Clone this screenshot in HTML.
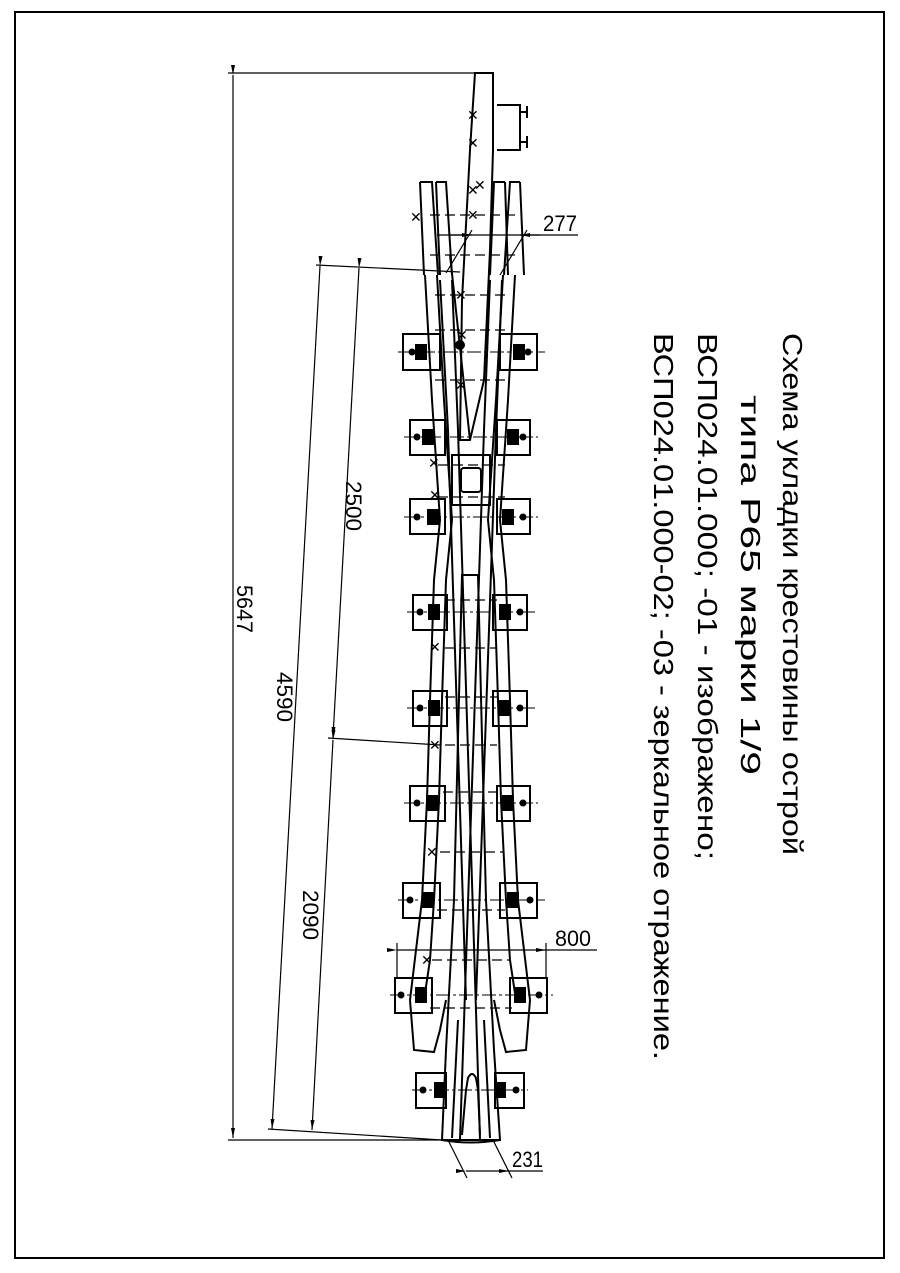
<!DOCTYPE html>
<html><head><meta charset="utf-8"><style>html,body{margin:0;padding:0;background:#fff}svg{display:block}</style></head><body>
<svg width="900" height="1273" viewBox="0 0 900 1273" xmlns="http://www.w3.org/2000/svg" font-family="'Liberation Sans Narrow','Liberation Sans',sans-serif">
<defs>
<marker id="a" viewBox="0 0 10 4" refX="10" refY="2" markerWidth="10" markerHeight="4" orient="auto" markerUnits="userSpaceOnUse"><path d="M0,0L10,2L0,4z" fill="#000"/></marker>
</defs>
<rect x="15" y="12" width="869" height="1246" fill="none" stroke="#000" stroke-width="2"/>
<g stroke="#000" stroke-width="1.2" fill="none">
<!-- dimension lines -->
<line x1="228" y1="73" x2="480" y2="73"/>
<line x1="228" y1="1140" x2="442" y2="1140"/>
<line x1="233" y1="75" x2="233" y2="1138" marker-start="url(#a)" marker-end="url(#a)"/>
<line x1="268" y1="1129" x2="442" y2="1140"/>
<line x1="316" y1="265" x2="460" y2="272"/>
<line x1="328" y1="738" x2="440" y2="745"/>
<line x1="320" y1="266" x2="272" y2="1129" marker-start="url(#a)" marker-end="url(#a)"/>
<line x1="359" y1="268" x2="333" y2="737" marker-start="url(#a)" marker-end="url(#a)"/>
<line x1="333" y1="740" x2="312" y2="1130" marker-start="url(#a)" marker-end="url(#a)"/>
<!-- 277 -->
<line x1="437" y1="235" x2="578" y2="235"/>
<line x1="450" y1="235" x2="472" y2="235" marker-end="url(#a)"/>
<line x1="540" y1="235" x2="520" y2="235" marker-end="url(#a)"/>
<line x1="472" y1="230" x2="446" y2="273"/>
<line x1="527" y1="230" x2="500" y2="275"/>
<!-- 800 -->
<line x1="397" y1="943" x2="397" y2="1000"/>
<line x1="546" y1="943" x2="546" y2="1000"/>
<line x1="397" y1="950" x2="546" y2="950" marker-start="url(#a)" marker-end="url(#a)"/>
<line x1="546" y1="950" x2="597" y2="950"/>
<!-- 231 -->
<line x1="448" y1="1140" x2="467" y2="1178"/>
<line x1="493" y1="1140" x2="512" y2="1178"/>
<line x1="466" y1="1171" x2="509" y2="1171" marker-start="url(#a)" marker-end="url(#a)"/>
<line x1="509" y1="1171" x2="543" y2="1171"/>
</g>
<g font-size="22" fill="#000">
<text transform="translate(237,585) rotate(90)" textLength="48" lengthAdjust="spacingAndGlyphs">5647</text>
<text transform="translate(277,672) rotate(90)" textLength="50" lengthAdjust="spacingAndGlyphs">4590</text>
<text transform="translate(346,481) rotate(90)" textLength="50" lengthAdjust="spacingAndGlyphs">2500</text>
<text transform="translate(303,890) rotate(90)" textLength="50" lengthAdjust="spacingAndGlyphs">2090</text>
<text x="543" y="231" textLength="34" lengthAdjust="spacingAndGlyphs">277</text>
<text x="555" y="946" textLength="36" lengthAdjust="spacingAndGlyphs">800</text>
<text x="512" y="1167" textLength="31" lengthAdjust="spacingAndGlyphs">231</text>
</g>
<g font-size="28" fill="#000">
<text transform="translate(783,333) rotate(90)" textLength="522" lengthAdjust="spacingAndGlyphs">Схема укладки крестовины острой</text>
<text transform="translate(741,395) rotate(90)" textLength="380" lengthAdjust="spacingAndGlyphs">типа Р65 марки 1/9</text>
<text transform="translate(698,333) rotate(90)" textLength="527" lengthAdjust="spacingAndGlyphs">ВСП024.01.000; -01 - изображено;</text>
<text transform="translate(654,333) rotate(90)" textLength="727" lengthAdjust="spacingAndGlyphs">ВСП024.01.000-02; -03 - зеркальное отражение.</text>
</g>
<!-- plates -->
<g stroke="#000" stroke-width="2" fill="#fff">
<rect x="403" y="334" width="37" height="36"/><rect x="500" y="334" width="37" height="36"/>
<rect x="410" y="420" width="35" height="35"/><rect x="497" y="420" width="33" height="35"/>
<rect x="410" y="499" width="35" height="35"/><rect x="497" y="499" width="33" height="35"/>
<rect x="413" y="595" width="34" height="35"/><rect x="493" y="595" width="34" height="35"/>
<rect x="413" y="691" width="34" height="35"/><rect x="493" y="691" width="34" height="35"/>
<rect x="410" y="786" width="35" height="35"/><rect x="497" y="786" width="33" height="35"/>
<rect x="403" y="883" width="37" height="35"/><rect x="500" y="883" width="37" height="35"/>
<rect x="395" y="978" width="37" height="35"/><rect x="510" y="978" width="37" height="35"/>
<rect x="416" y="1073" width="30" height="35"/><rect x="495" y="1073" width="29" height="35"/>
</g>
<g stroke="#000" stroke-width="1" stroke-dasharray="14,3,3,3">
<line x1="398" y1="352" x2="545" y2="352"/><line x1="404" y1="437" x2="538" y2="437"/>
<line x1="404" y1="517" x2="538" y2="517"/><line x1="407" y1="612" x2="535" y2="612"/>
<line x1="407" y1="708" x2="535" y2="708"/><line x1="404" y1="803" x2="538" y2="803"/>
<line x1="398" y1="900" x2="545" y2="900"/><line x1="390" y1="995" x2="553" y2="995"/>
<line x1="412" y1="1090" x2="528" y2="1090"/>
</g>
<g fill="#000">
<circle cx="412" cy="352" r="3.5"/><circle cx="528" cy="352" r="3.5"/>
<circle cx="417" cy="437" r="3.5"/><circle cx="523" cy="437" r="3.5"/>
<circle cx="417" cy="517" r="3.5"/><circle cx="523" cy="517" r="3.5"/>
<circle cx="420" cy="612" r="3.5"/><circle cx="520" cy="612" r="3.5"/>
<circle cx="420" cy="708" r="3.5"/><circle cx="520" cy="708" r="3.5"/>
<circle cx="417" cy="803" r="3.5"/><circle cx="523" cy="803" r="3.5"/>
<circle cx="410" cy="900" r="3.5"/><circle cx="530" cy="900" r="3.5"/>
<circle cx="401" cy="995" r="3.5"/><circle cx="539" cy="995" r="3.5"/>
<circle cx="423" cy="1090" r="3.5"/><circle cx="516" cy="1090" r="3.5"/>
<rect x="415" y="344" width="12" height="16"/><rect x="513" y="344" width="12" height="16"/>
<rect x="422" y="429" width="12" height="16"/><rect x="507" y="429" width="12" height="16"/>
<rect x="427" y="509" width="12" height="16"/><rect x="502" y="509" width="12" height="16"/>
<rect x="428" y="604" width="12" height="16"/><rect x="499" y="604" width="12" height="16"/>
<rect x="428" y="700" width="12" height="16"/><rect x="499" y="700" width="12" height="16"/>
<rect x="426" y="795" width="12" height="16"/><rect x="502" y="795" width="12" height="16"/>
<rect x="422" y="892" width="12" height="16"/><rect x="507" y="892" width="12" height="16"/>
<rect x="415" y="987" width="12" height="16"/><rect x="514" y="987" width="12" height="16"/>
<rect x="434" y="1082" width="12" height="16"/><rect x="494" y="1082" width="12" height="16"/>
<circle cx="460" cy="345" r="5"/>
</g>
<!-- rails -->
<g stroke="#000" stroke-width="2" fill="none">
<!-- top single rail -->
<path d="M475,73 L493,73 L493,150 L490,250 L484,380 L470,440 L460,440 L462,300 L470,150 Z"/>
<path d="M497,105 L520,105 L520,150 L497,150"/>
<line x1="520" y1="112" x2="527" y2="112"/><line x1="527" y1="106" x2="527" y2="118"/>
<line x1="520" y1="142" x2="527" y2="142"/><line x1="527" y1="136" x2="527" y2="148"/>
<!-- top outer wings -->
<path d="M420,182 L432,182 L438,275 M420,182 L424,275"/>
<path d="M436,182 L446,182 L452,275 M436,182 L440,275"/>
<path d="M505,182 L494,182 L490,275 M505,182 L508,275"/>
<path d="M520,182 L510,182 L504,275 M520,182 L524,275"/>
<!-- left outer rail -->
<path d="M425,275 L432,400 L440,520 L434,580 L430,700 L427,800 L422,900 L410,1000 L414,1050 L434,1052 L440,1030 L446,1000"/>
<path d="M437,275 L444,400 L452,520 L446,580 L442,700 L439,800 L434,900 L430,960 L424,1000"/>
<!-- right outer rail -->
<path d="M515,275 L508,400 L500,520 L506,580 L510,700 L513,800 L518,900 L530,1000 L526,1050 L506,1052 L500,1030 L494,1000"/>
<path d="M503,275 L496,400 L488,520 L494,580 L498,700 L501,800 L506,900 L510,960 L516,1000"/>
<!-- frog core body -->
<path d="M442,1140 L446,1050 L454,900 L462,575 L478,575 L486,900 L494,1050 L500,1140 Z"/>
<path d="M442,1140 Q470,1145 500,1140"/>
<path d="M462,1135 L466,1090 L468,1078 Q472,1070 476,1078 L478,1090 L480,1135"/>
<line x1="452" y1="1138" x2="458" y2="1020"/><line x1="490" y1="1138" x2="484" y2="1020"/>
<!-- crossing rails -->
<path d="M452,280 L458,430 L480,1140"/>
<path d="M440,280 L448,430 L466,1000"/>
<path d="M490,280 L484,430 L460,1140"/>
<path d="M502,280 L496,430 L476,1000"/>
<!-- center block -->
<rect x="452" y="455" width="38" height="50"/>
<rect x="461" y="468" width="20" height="24" rx="3"/>
<path d="M450,255 L470,440"/>
</g>
<!-- sleepers dashed -->
<g stroke="#000" stroke-width="1.2" stroke-dasharray="10,5">
<line x1="430" y1="215" x2="515" y2="215"/><line x1="430" y1="255" x2="515" y2="255"/>
<line x1="435" y1="295" x2="510" y2="295"/><line x1="435" y1="330" x2="510" y2="330"/>
<line x1="435" y1="380" x2="510" y2="380"/><line x1="438" y1="465" x2="505" y2="465"/>
<line x1="438" y1="497" x2="505" y2="497"/><line x1="445" y1="600" x2="497" y2="600"/>
<line x1="445" y1="648" x2="497" y2="648"/><line x1="445" y1="697" x2="497" y2="697"/>
<line x1="445" y1="745" x2="497" y2="745"/><line x1="443" y1="792" x2="500" y2="792"/>
<line x1="440" y1="852" x2="503" y2="852"/><line x1="437" y1="910" x2="505" y2="910"/>
<line x1="432" y1="960" x2="510" y2="960"/><line x1="430" y1="1008" x2="512" y2="1008"/>
</g>
<g font-size="14" fill="#000">
<text x="467" y="120">✕</text><text x="467" y="148">✕</text><text x="467" y="195">✕</text>
<text x="467" y="220">✕</text><text x="410" y="222">✕</text><text x="474" y="190">✕</text>
<text x="455" y="300">✕</text><text x="456" y="340">✕</text><text x="455" y="390">✕</text>
<text x="428" y="468">✕</text><text x="429" y="500">✕</text><text x="429" y="652">✕</text>
<text x="429" y="750">✕</text><text x="426" y="857">✕</text><text x="421" y="965">✕</text>
</g>
</svg>
</body></html>
